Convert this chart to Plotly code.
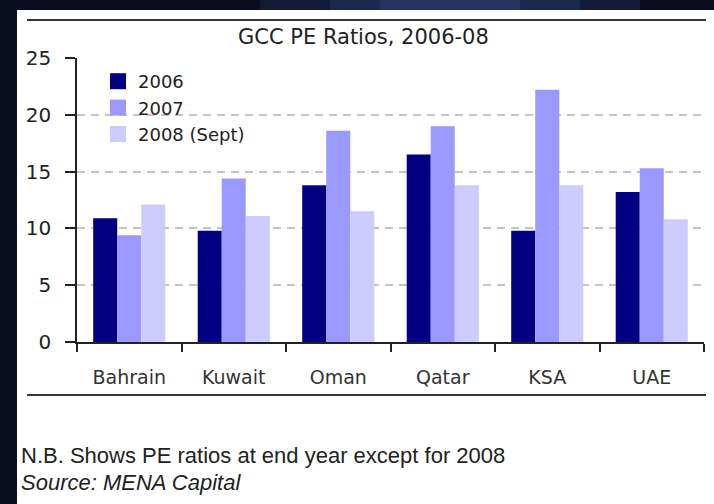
import plotly.graph_objects as go

# ---- data -------------------------------------------------------------
countries = ["Bahrain", "Kuwait", "Oman", "Qatar", "KSA", "UAE"]
pe_2006 = [10.9, 9.8, 13.8, 16.5, 9.8, 13.2]
pe_2007 = [9.4, 14.4, 18.6, 19.0, 22.2, 15.3]
pe_2008 = [12.1, 11.1, 11.5, 13.8, 13.8, 10.8]
series_names = ["2006", "2007", "2008 (Sept)"]
y_ticks = [0, 5, 10, 15, 20, 25]

title_text = "GCC PE Ratios, 2006-08"
note_text = "N.B. Shows PE ratios at end year except for 2008"
source_text = "<i>Source: MENA Capital</i>"

# ---- geometry ---------------------------------------------------------
W, H = 714, 504
L, R, T, B = 77, 10, 58, 162
plot_w = W - L - R
plot_h = H - T - B


def fx(x):
    """pixel x -> paper fraction of the plot area"""
    return (x - L) / plot_w


def fy(y):
    """pixel y (from top) -> paper fraction of the plot area"""
    return (H - B - y) / plot_h


colors = ["#000080", "#9999FF", "#CCCCFF"]
chart_font = "DejaVu Sans"

fig = go.Figure()

for name, vals, col in zip(series_names, [pe_2006, pe_2007, pe_2008], colors):
    fig.add_trace(go.Bar(
        x=countries, y=vals, name=name,
        marker=dict(color=col, line=dict(width=0)),
        showlegend=False,
    ))
    # legend swatch
    fig.add_trace(go.Scatter(
        x=[None], y=[None], mode="markers", name=name,
        marker=dict(symbol="square", size=16, color=col),
        showlegend=True,
    ))

shapes = []
# white page panel
shapes.append(dict(type="rect", xref="paper", yref="paper",
                   x0=fx(17), x1=fx(W + 5), y0=fy(10), y1=fy(H + 5),
                   fillcolor="white", line=dict(width=0), layer="below"))
# subtle bluish glow at the top band
for x0, x1, c in [(260, 640, "rgba(40,60,110,0.30)"),
                  (330, 580, "rgba(45,70,125,0.35)"),
                  (380, 520, "rgba(55,80,140,0.30)")]:
    shapes.append(dict(type="rect", xref="paper", yref="paper",
                       x0=fx(x0), x1=fx(x1), y0=fy(-2), y1=fy(10),
                       fillcolor=c, line=dict(width=0), layer="below"))
# horizontal rules above the title and below the categories
for yy in (20, 395):
    shapes.append(dict(type="line", xref="paper", yref="paper",
                       x0=fx(27), x1=fx(706), y0=fy(yy), y1=fy(yy),
                       line=dict(color="#333333", width=2)))

annotations = [
    dict(text=title_text, xref="paper", yref="paper", x=fx(363), y=fy(37),
         xanchor="center", yanchor="middle", showarrow=False,
         font=dict(family=chart_font, size=21, color="#222222")),
    dict(text=note_text, xref="paper", yref="paper", x=fx(19), y=fy(455),
         xanchor="left", yanchor="middle", showarrow=False,
         font=dict(family="Liberation Sans", size=22, color="#222222")),
    dict(text=source_text, xref="paper", yref="paper", x=fx(19), y=fy(482),
         xanchor="left", yanchor="middle", showarrow=False,
         font=dict(family="Liberation Sans", size=22, color="#222222")),
]

fig.update_layout(
    width=W, height=H, autosize=False,
    margin=dict(l=L, r=R, t=T, b=B, pad=0, autoexpand=False),
    paper_bgcolor="#080e1e",
    plot_bgcolor="white",
    barmode="group", bargap=0.31, bargroupgap=0,
    font=dict(family=chart_font, size=20, color="#222222"),
    shapes=shapes,
    annotations=annotations,
    legend=dict(
        xref="container", yref="container",
        x=98 / W, y=1 - 63 / H, xanchor="left", yanchor="top",
        bgcolor="rgba(0,0,0,0)", borderwidth=0,
        font=dict(family=chart_font, size=18, color="#222222"),
        tracegroupgap=0, itemsizing="trace",
    ),
    xaxis=dict(
        showline=True, linecolor="#222222", linewidth=1.5,
        ticks="outside", tickson="boundaries", ticklen=8,
        tickcolor="#222222", tickwidth=1.5, tickangle=0,
        tickfont=dict(family=chart_font, size=19, color="#333333"),
        ticklabelstandoff=17, automargin=False,
        showgrid=False, zeroline=False, fixedrange=True,
    ),
    yaxis=dict(
        range=[0, 25], tickvals=y_ticks,
        showline=True, linecolor="#222222", linewidth=1.5,
        ticks="outside", ticklen=10, tickcolor="#222222", tickwidth=1.5,
        tickfont=dict(family=chart_font, size=20, color="#222222"),
        ticklabelstandoff=10, automargin=False,
        showgrid=True, gridcolor="#c4c4c4", gridwidth=1.5,
        griddash="8px,6px",
        zeroline=False, fixedrange=True,
    ),
)

fig.write_html("out.html")
